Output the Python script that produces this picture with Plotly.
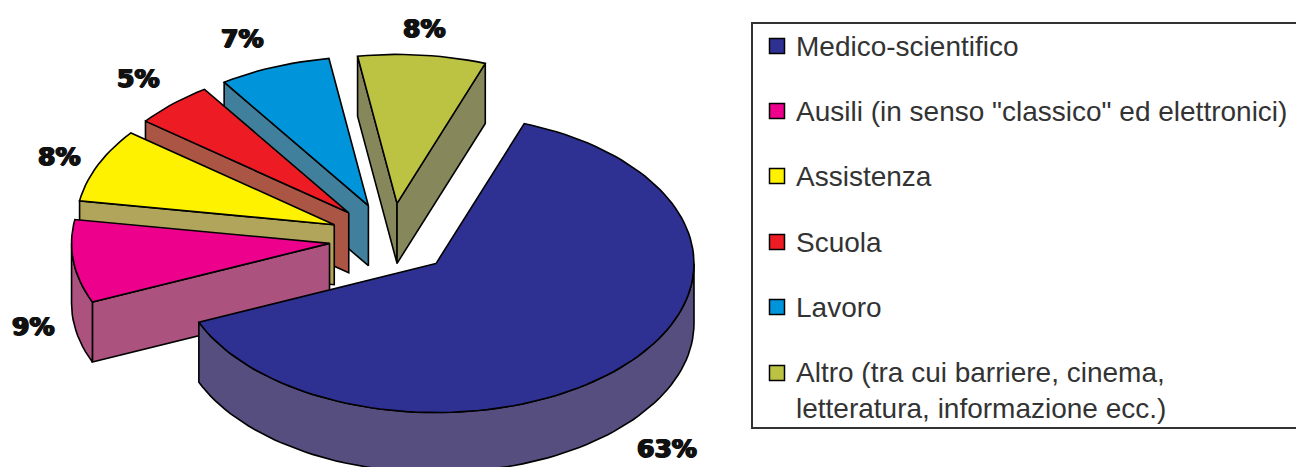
import math
import plotly.graph_objects as go

categories = ["Medico-scientifico", "Ausili (in senso \"classico\" ed elettronici)", "Assistenza",
              "Scuola", "Lavoro", "Altro (tra cui barriere, cinema,<br>letteratura, informazione ecc.)"]
values = [63, 9, 8, 5, 7, 8]
top_colors = ["#2E3192", "#EC008C", "#FFF200", "#ED1C24", "#0095DA", "#BCC343"]
side_colors = ["#564E7F", "#AB527F", "#B1A45B", "#AB5545", "#41809C", "#86875A"]

# Projection of the exploded pie, in the axes' pixel-like units
CX, CY, RX, RY, DEPTH, PULL, START = 391, 239, 258, 149, 60, 0.24, 70
LINE = dict(color="black", width=1.6)
label_xy = [(667, 448), (33, 326), (59, 156), (138, 78), (242, 38), (424, 28)]
legend_y = [46, 111, 176, 242, 307, 373]
legend_marker_x, legend_text_x = 777, 794

fig = go.Figure()


def poly(xs, ys, color, name):
    fig.add_trace(go.Scatter(x=xs, y=ys, mode="lines", fill="toself", fillcolor=color, line=LINE,
                             showlegend=False, name=name, hoverinfo="name"))


def arc(ax, ay, a, b, offset=0):
    n = max(2, int(abs(a - b) / 2) + 1)
    ts = [math.radians(a + (b - a) * i / (n - 1)) for i in range(n)]
    return [ax + RX * math.cos(t) for t in ts], [ay - RY * math.sin(t) + offset for t in ts]


# Slice angles (clockwise from START), from the values
slices = []
angle = START
for v in values:
    slices.append((angle, angle - v * 3.6))
    angle -= v * 3.6

# Paint back to front: last slices first, main slice on top
for i in [5, 4, 3, 2, 1, 0]:
    a, b = slices[i]
    mid = math.radians((a + b) / 2)
    ax = CX + PULL * RX * math.cos(mid)
    ay = CY - PULL * RY * math.sin(mid)
    name = categories[i].replace("<br>", " ")
    # radial walls that face the viewer
    if math.cos(math.radians(a)) < 0:
        ex, ey = arc(ax, ay, a, a)
        poly([ax, ex[0], ex[0], ax, ax], [ay, ey[0], ey[0] + DEPTH, ay + DEPTH, ay], side_colors[i], name)
    if math.cos(math.radians(b)) > 0:
        ex, ey = arc(ax, ay, b, b)
        poly([ax, ex[0], ex[0], ax, ax], [ay, ey[0], ey[0] + DEPTH, ay + DEPTH, ay], side_colors[i], name)
    # outer rim: only the front half of the ellipse (-180..0 degrees) shows
    rim_start = max(b, -180)
    rim_end = min(a, 0)
    if rim_end > rim_start:
        rx1, ry1 = arc(ax, ay, rim_end, rim_start)
        rx2, ry2 = arc(ax, ay, rim_start, rim_end, DEPTH)
        poly(rx1 + rx2 + rx1[:1], ry1 + ry2 + ry1[:1], side_colors[i], name)
    # top face
    tx, ty = arc(ax, ay, a, b)
    poly([ax] + tx + [ax], [ay] + ty + [ay], top_colors[i], name)

# Legend frame
fig.add_shape(type="rect", x0=752, x1=1310, y0=23, y1=428, xref="x", yref="y",
              line=dict(color="#333333", width=2), fillcolor="white", layer="below")

for name, color, y in zip(categories, top_colors, legend_y):
    two_lines = "<br>" in name
    fig.add_trace(go.Scatter(x=[legend_marker_x], y=[y], mode="markers", showlegend=False,
                             marker=dict(symbol="square", size=15, color=color, line=dict(color="black", width=1.5)),
                             name=name.replace("<br>", " "), hoverinfo="name"))
    fig.add_annotation(x=legend_text_x, y=y, xref="x", yref="y", text=name, showarrow=False, xanchor="left",
                       yanchor="top" if two_lines else "middle", align="left",
                       yshift=18 if two_lines else 0,
                       font=dict(family="Liberation Sans", size=28, color="#333333"))

for v, (x, y) in zip(values, label_xy):
    fig.add_annotation(x=x, y=y, xref="x", yref="y", text=f"<b>{v}%</b>", showarrow=False,
                       font=dict(family="DejaVu Sans", size=25, color="#111111",
                                 shadow="1px 0 0 #111111, -1px 0 0 #111111, 0 1px 0 #111111"))

fig.update_layout(width=1296, height=467, margin=dict(l=0, r=0, t=0, b=0),
                  paper_bgcolor="white", plot_bgcolor="white", showlegend=False,
                  xaxis=dict(range=[0, 1296], visible=False, fixedrange=True),
                  yaxis=dict(range=[467, 0], visible=False, fixedrange=True))
# Remove the page's default body margin so the figure fills the window exactly
fig.write_html("out.html", config={"displayModeBar": False},
               post_script="document.body.style.margin='0';document.body.style.overflow='hidden';")
